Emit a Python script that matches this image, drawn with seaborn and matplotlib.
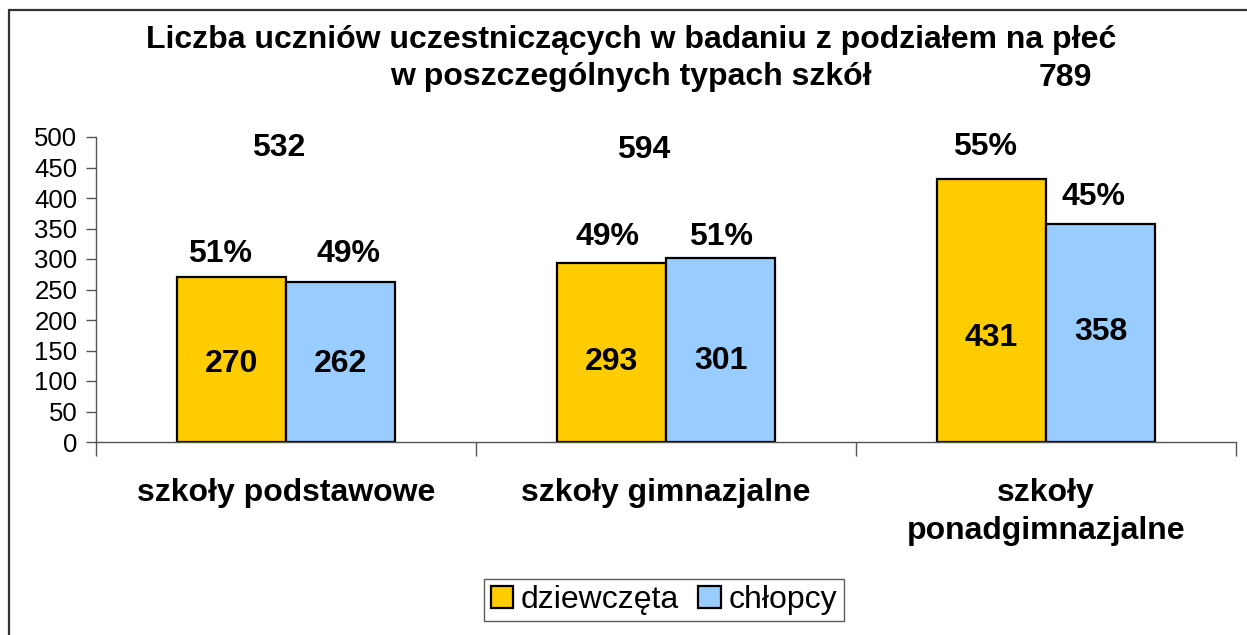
import matplotlib
matplotlib.use("Agg")
import matplotlib.pyplot as plt
import seaborn as sns
import pandas as pd
from matplotlib.patches import Patch
from matplotlib.lines import Line2D

categories = ["szkoły podstawowe", "szkoły gimnazjalne", "szkoły\nponadgimnazjalne"]
series = ["dziewczęta", "chłopcy"]
girls = [270, 293, 431]
boys = [262, 301, 358]
girls_pct = ["51%", "49%", "55%"]
boys_pct = ["49%", "51%", "45%"]
totals = [532, 594, 789]
colors = ["#FFCC00", "#99CCFF"]

# layout constants (label positions in data units)
inner_label_y = [[128, 128], [131, 133], [170, 180]]
pct_label_y = [[308, 308], [336, 336], [484, 402]]
pct_label_dx = [[-0.03, 0.02], [-0.01, 0.0], [-0.018, -0.018]]
total_label_y = [482, 479, 597]
total_label_dx = [-0.02, -0.06, 0.05]

sns.set_theme(style="white")
plt.rcParams["font.family"] = ["Liberation Sans", "DejaVu Sans"]
plt.rcParams["text.color"] = "black"
plt.rcParams["xtick.color"] = "black"
plt.rcParams["ytick.color"] = "black"

df = pd.DataFrame({
    "kategoria": categories * 2,
    "płeć": [series[0]] * 3 + [series[1]] * 3,
    "liczba": girls + boys,
})

fig = plt.figure(figsize=(12.47, 6.35), dpi=100)
ax = fig.add_axes([96 / 1247, 1 - 442 / 635, (1236 - 96) / 1247, (442 - 137) / 635])

sns.barplot(data=df, x="kategoria", y="liczba", hue="płeć", order=categories,
            hue_order=series, palette=colors, width=0.574, edgecolor="black",
            linewidth=1.6, saturation=1, ax=ax, legend=False)

ax.set_ylim(0, 500)
ax.set_xlim(-0.5, 2.5)
ax.set_yticks(range(0, 501, 50))
ax.tick_params(axis="y", which="major", direction="out", length=7, width=1,
               color="#555555", labelsize=18.5, pad=6.5, left=True,
               labelcolor="black")
ax.set_xticks([-0.5, 0.5, 1.5, 2.5])
ax.set_xticklabels([])
ax.tick_params(axis="x", which="major", direction="out", length=10, width=1,
               color="#555555", bottom=True)
ax.set_xticks([0, 1, 2], minor=True)
ax.set_xticklabels(categories, minor=True, fontsize=23, fontweight="bold",
                   linespacing=1.35, color="black")
ax.tick_params(axis="x", which="minor", length=0, pad=26)
ax.set_xlabel("")
ax.set_ylabel("")
for s in ["top", "right"]:
    ax.spines[s].set_visible(False)
for s in ["left", "bottom"]:
    ax.spines[s].set_color("#555555")
    ax.spines[s].set_linewidth(1)
ax.grid(False)

bw = 0.574 / 2
for i in range(3):
    for j, vals in enumerate([girls, boys]):
        xc = i - bw / 2 + j * bw
        ax.text(xc, inner_label_y[i][j], str(vals[i]), ha="center", va="center",
                fontsize=23, fontweight="bold", color="black")
        pct = [girls_pct, boys_pct][j][i]
        ax.text(xc + pct_label_dx[i][j], pct_label_y[i][j], pct, ha="center",
                va="center", fontsize=23, fontweight="bold", color="black")
    ax.text(i + total_label_dx[i], total_label_y[i], str(totals[i]), ha="center",
            va="center", fontsize=23, fontweight="bold", clip_on=False, color="black")

fig.text(631 / 1247, 1 - 40 / 635,
         "Liczba uczniów uczestniczących w badaniu z podziałem na płeć",
         ha="center", va="center", fontsize=23, fontweight="bold", color="black")
fig.text(631 / 1247, 1 - 77 / 635, "w poszczególnych typach szkół",
         ha="center", va="center", fontsize=23, fontweight="bold", color="black")

handles = [Patch(facecolor=c, edgecolor="black", linewidth=1.6) for c in colors]
leg = fig.legend(handles, series, loc="center", bbox_to_anchor=(664 / 1247, 1 - 600 / 635),
                 ncol=2, fontsize=23, frameon=True, fancybox=False, edgecolor="#333333",
                 handlelength=0.7, handleheight=0.7, handletextpad=0.25,
                 columnspacing=0.6, borderpad=0.2, borderaxespad=0)
leg.get_frame().set_linewidth(1)
for t in leg.get_texts():
    t.set_color("black")

fig.add_artist(Line2D([9 / 1247, 9 / 1247], [0, 1 - 10 / 635], transform=fig.transFigure,
                      color="#333333", linewidth=1.6))
fig.add_artist(Line2D([9 / 1247, 1], [1 - 10 / 635, 1 - 10 / 635], transform=fig.transFigure,
                      color="#333333", linewidth=1.6))

fig.savefig("out.png", dpi=100, facecolor="white")
